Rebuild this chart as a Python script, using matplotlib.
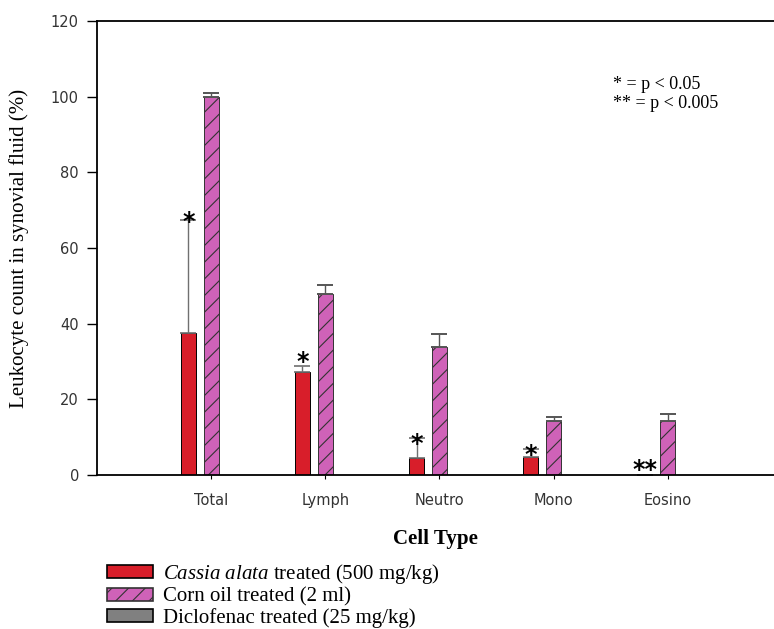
import numpy as np
import matplotlib
matplotlib.use("Agg")
import matplotlib.pyplot as plt
from matplotlib.patches import Patch

plt.rcParams['mathtext.fontset'] = 'custom'
plt.rcParams['mathtext.it'] = 'Liberation Serif:italic'
plt.rcParams['mathtext.rm'] = 'Liberation Serif'
plt.rcParams['hatch.linewidth'] = 0.8

cells = ["Total", "Lymph", "Neutro", "Mono", "Eosino"]
cassia = [37.5, 27.3, 4.6, 4.7, 0.0]
cassia_err = [30.0, 1.5, 5.1, 2.3, 0.0]
corn = [100.0, 47.8, 33.9, 14.4, 14.4]
corn_err = [1.0, 2.5, 3.4, 1.0, 1.7]
diclo = [0.0, 0.0, 0.0, 0.0, 0.0]
stars = ["*", "*", "*", "*", "**"]
star_y = [67.0, 30.0, 8.2, 5.2, 1.4]

RED = "#d81e2a"
PINK = "#cf62b8"
GRAY = "#808080"


def main():
    fig = plt.figure(figsize=(7.74, 6.29), dpi=100)
    ax = fig.add_axes([0.1253, 0.2448, 0.8747, 0.7218])

    x = np.arange(len(cells))
    w = 0.13
    off = 0.2

    ax.bar(x - off, cassia, w, color=RED, edgecolor="black", linewidth=0.7)
    ax.errorbar(x - off, cassia, yerr=[np.zeros(5), cassia_err], fmt="none",
                ecolor="#707070", elinewidth=1.0, capsize=6, capthick=1.2)
    ax.bar(x, corn, w, color=PINK, edgecolor="#333333", linewidth=0.7, hatch="//")
    ax.errorbar(x, corn, yerr=[np.zeros(5), corn_err], fmt="none",
                ecolor="#555555", elinewidth=1.0, capsize=6, capthick=1.4)
    ax.bar(x + off, diclo, w, color=GRAY, edgecolor="black", linewidth=0.7)

    for xi, s, sy in zip(x - off, stars, star_y):
        ax.text(xi, sy, s, ha="center", va="center", fontsize=17,
                fontweight="bold", color="black")

    ax.text(3.52, 105.5, "* = p < 0.05\n** = p < 0.005", ha="left", va="top",
            fontsize=13, family="Liberation Serif", linespacing=1.2)

    ax.set_xlim(-1.0, 4.93)
    ax.set_ylim(0, 120)
    ax.set_yticks(range(0, 121, 20))
    ax.set_xticks(x)
    ax.set_xticklabels(cells, family="DejaVu Sans", fontsize=10.5, color="#333333")
    for lab in ax.get_yticklabels():
        lab.set_family("DejaVu Sans")
        lab.set_fontsize(10.5)
        lab.set_color("#333333")
    ax.tick_params(axis="x", length=3, width=0.8, pad=10)
    ax.tick_params(axis="y", length=7, width=1.0, pad=6)
    ax.spines["right"].set_visible(False)
    for s in ("left", "top", "bottom"):
        ax.spines[s].set_linewidth(1.3)

    ax.set_ylabel("Leukocyte count in synovial fluid (%)", family="Liberation Serif",
                  fontsize=15, labelpad=16)
    ax.set_xlabel("Cell Type", family="Liberation Serif", fontweight="bold",
                  fontsize=15, labelpad=15)

    handles = [
        Patch(facecolor=RED, edgecolor="black", linewidth=1.2),
        Patch(facecolor=PINK, edgecolor="#333333", linewidth=1.2, hatch="//"),
        Patch(facecolor=GRAY, edgecolor="black", linewidth=1.2),
    ]
    labels = [
        r"$\it{Cassia\ alata}$ treated (500 mg/kg)",
        "Corn oil treated (2 ml)",
        "Diclofenac treated (25 mg/kg)",
    ]
    fig.legend(handles, labels, loc="upper left", bbox_to_anchor=(0.138, 0.106),
               frameon=False, prop={"family": "Liberation Serif", "size": 15},
               handlelength=2.2, handleheight=0.58, labelspacing=0.06,
               handletextpad=0.5, borderpad=0, borderaxespad=0)

    fig.savefig("out.png", dpi=100)


if __name__ == "__main__":
    main()
